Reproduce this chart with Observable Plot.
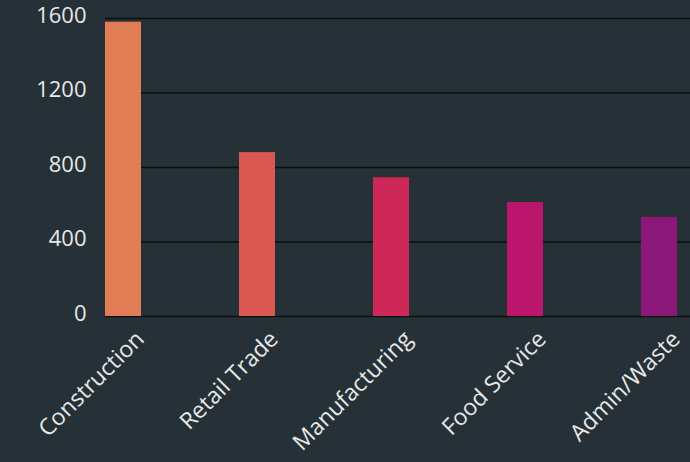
<!DOCTYPE html>
<html>
<head>
<meta charset="utf-8">
<script src="https://cdn.jsdelivr.net/npm/d3@7"></script>
<script src="https://cdn.jsdelivr.net/npm/@observablehq/plot@0.6"></script>
<style>
  html, body { margin: 0; padding: 0; background: #253137; }
  #chart svg { display: block; }
</style>
</head>
<body>
<div id="chart"></div>
<script>
const categories = ["Construction", "Retail Trade", "Manufacturing", "Food Service", "Admin/Waste"];
const values = [1580, 880, 745, 612, 532];
const colors = ["#e27c55", "#da5852", "#ce2858", "#bc166c", "#8b1878"];
const yTicks = [0, 400, 800, 1200, 1600];

const data = categories.map((c, i) => ({category: c, value: values[i], color: colors[i]}));

const chart = Plot.plot({
  width: 690,
  height: 462,
  marginLeft: 105,
  marginRight: 0,
  marginTop: 18,
  marginBottom: 146,
  style: {background: "#253137", color: "#e8e8e8", fontFamily: "'Open Sans', sans-serif"},
  x: {domain: categories, paddingInner: 0.732, paddingOuter: 0.0425, align: 0, axis: null},
  y: {domain: [0, 1600], axis: null},
  marks: [
    Plot.ruleY(yTicks, {stroke: "#0c0e0f", strokeWidth: 1.6}),
    Plot.barY(data, {x: "category", y: "value", fill: "color"}),
    Plot.axisY(yTicks, {tickSize: 0, tickPadding: 19, fontSize: 22, fill: "#e8e8e8", dy: -3,
      label: null, tickFormat: d => String(d)}),
    Plot.text(data, {x: "category", text: "category", frameAnchor: "bottom", rotate: -45,
      textAnchor: "end", dx: 22, dy: 24, fontSize: 23, fill: "#e8e8e8"})
  ]
});
document.getElementById("chart").append(chart);
</script>
</body>
</html>
